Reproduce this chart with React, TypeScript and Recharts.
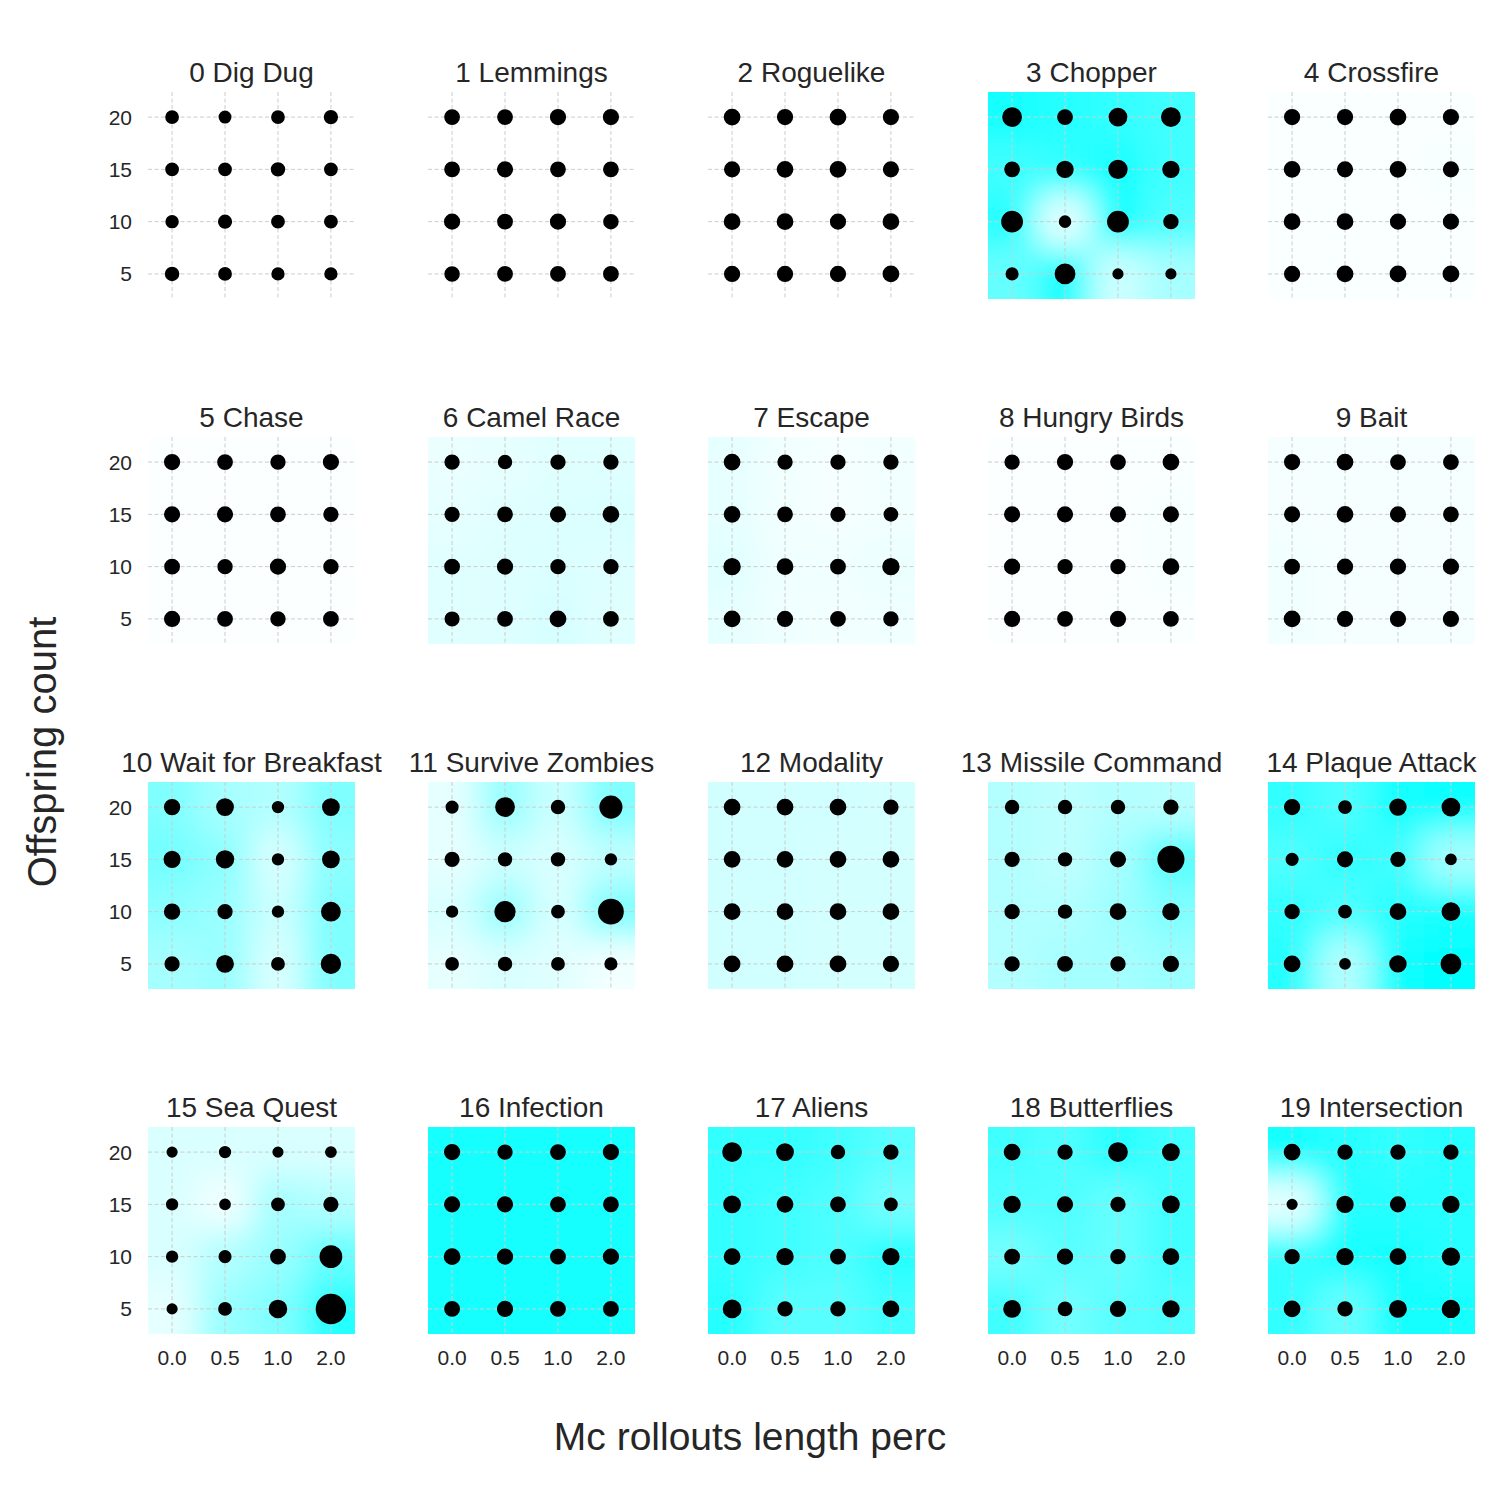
import React from 'react';
import { ScatterChart, Scatter, XAxis, YAxis, ZAxis, CartesianGrid } from 'recharts';

// ---------- data ----------
const GAMES = [
  '0 Dig Dug', '1 Lemmings', '2 Roguelike', '3 Chopper', '4 Crossfire',
  '5 Chase', '6 Camel Race', '7 Escape', '8 Hungry Birds', '9 Bait',
  '10 Wait for Breakfast', '11 Survive Zombies', '12 Modality', '13 Missile Command', '14 Plaque Attack',
  '15 Sea Quest', '16 Infection', '17 Aliens', '18 Butterflies', '19 Intersection',
];
const X_LABELS = ['0.0', '0.5', '1.0', '2.0'];
const X_TICKS = [0, 1, 2, 3];
const Y_VALUES = [20, 15, 10, 5];
const Y_TICKS = [5, 10, 15, 20];

// marker value per game: rows = offspring 20,15,10,5 ; cols = rollout perc 0.0,0.5,1.0,2.0
const DOT_VALUES: number[][][] = [
  [[36, 31, 36, 39], [36, 36, 40, 36], [34, 38, 36, 36], [40, 36, 33, 33]],
  [[49, 49, 52, 52], [49, 52, 49, 49], [52, 49, 52, 47], [47, 49, 49, 49]],
  [[56, 52, 56, 52], [52, 56, 56, 52], [56, 56, 52, 56], [52, 52, 52, 56]],
  [[81, 49, 72, 81], [49, 61, 77, 61], [100, 29, 100, 46], [32, 90, 22, 22]],
  [[52, 52, 56, 52], [56, 52, 56, 52], [56, 56, 52, 52], [52, 56, 56, 56]],
  [[52, 49, 46, 52], [52, 52, 49, 46], [49, 46, 52, 46], [52, 49, 46, 49]],
  [[46, 40, 46, 46], [46, 49, 52, 56], [49, 52, 46, 46], [44, 49, 56, 49]],
  [[56, 46, 46, 46], [56, 49, 46, 42], [61, 56, 49, 61], [56, 52, 49, 46]],
  [[46, 52, 49, 56], [52, 52, 52, 52], [52, 46, 46, 56], [52, 49, 52, 49]],
  [[52, 56, 49, 49], [52, 56, 52, 49], [49, 52, 52, 52], [56, 52, 52, 52]],
  [[53, 64, 28, 64], [59, 69, 28, 64], [53, 45, 28, 81], [45, 64, 36, 86]],
  [[32, 81, 40, 114], [45, 40, 40, 28], [28, 94, 36, 144], [36, 40, 36, 32]],
  [[56, 56, 56, 46], [56, 56, 56, 56], [56, 56, 56, 56], [56, 56, 56, 52]],
  [[40, 40, 40, 46], [46, 40, 52, 160], [46, 40, 56, 61], [46, 49, 46, 52]],
  [[52, 36, 61, 72], [32, 52, 46, 25], [46, 36, 56, 72], [56, 25, 61, 90]],
  [[22, 28, 22, 25], [28, 25, 36, 45], [28, 32, 49, 110], [22, 36, 70, 205]],
  [[52, 46, 49, 52], [52, 52, 49, 49], [56, 52, 49, 52], [49, 52, 49, 49]],
  [[81, 64, 40, 46], [64, 56, 49, 36], [56, 61, 49, 61], [72, 46, 46, 56]],
  [[56, 46, 81, 64], [61, 52, 46, 64], [49, 52, 46, 56], [64, 42, 52, 61]],
  [[56, 46, 46, 46], [22, 61, 52, 61], [46, 61, 56, 69], [56, 46, 64, 69]],
];

// background intensity (0 = white, 1 = cyan) per game, same layout
const HEAT_VALUES: number[][][] = [
  [[0, 0, 0, 0], [0, 0, 0, 0], [0, 0, 0, 0], [0, 0, 0, 0]],
  [[0, 0, 0, 0], [0, 0, 0, 0], [0, 0, 0, 0], [0, 0, 0, 0]],
  [[0, 0, 0, 0], [0, 0, 0, 0], [0, 0, 0, 0], [0, 0, 0, 0]],
  [[0.9, 0.85, 0.8, 0.75], [0.75, 0.8, 0.9, 0.75], [0.85, 0.1, 0.95, 0.7], [0.6, 0.95, 0.2, 0.35]],
  [[0.02, 0.02, 0.02, 0.02], [0.02, 0.02, 0.02, 0.03], [0.02, 0.02, 0.02, 0.02], [0.02, 0.02, 0.02, 0.02]],
  [[0.01, 0.01, 0.01, 0.01], [0.01, 0.01, 0.01, 0.01], [0.01, 0.01, 0.01, 0.01], [0.01, 0.01, 0.01, 0.01]],
  [[0.08, 0.1, 0.12, 0.12], [0.1, 0.12, 0.14, 0.15], [0.12, 0.13, 0.14, 0.13], [0.12, 0.13, 0.16, 0.12]],
  [[0.1, 0.05, 0.04, 0.05], [0.1, 0.05, 0.04, 0.05], [0.12, 0.06, 0.06, 0.08], [0.1, 0.06, 0.05, 0.06]],
  [[0.01, 0.01, 0.02, 0.02], [0.01, 0.01, 0.02, 0.03], [0.01, 0.01, 0.02, 0.03], [0.01, 0.01, 0.02, 0.02]],
  [[0.04, 0.04, 0.04, 0.04], [0.04, 0.04, 0.04, 0.04], [0.05, 0.04, 0.04, 0.04], [0.05, 0.04, 0.04, 0.04]],
  [[0.5, 0.35, 0.3, 0.5], [0.55, 0.45, 0.15, 0.45], [0.45, 0.4, 0.2, 0.5], [0.35, 0.4, 0.15, 0.5]],
  [[0.1, 0.4, 0.2, 0.5], [0.1, 0.2, 0.15, 0.25], [0.15, 0.4, 0.15, 0.5], [0.1, 0.15, 0.12, 0.05]],
  [[0.18, 0.18, 0.18, 0.17], [0.18, 0.18, 0.17, 0.17], [0.18, 0.18, 0.17, 0.17], [0.18, 0.18, 0.17, 0.17]],
  [[0.3, 0.25, 0.3, 0.28], [0.3, 0.25, 0.35, 0.65], [0.3, 0.3, 0.38, 0.5], [0.3, 0.35, 0.35, 0.4]],
  [[0.8, 0.7, 0.9, 0.95], [0.7, 0.8, 0.75, 0.35], [0.8, 0.7, 0.85, 0.9], [0.85, 0.3, 0.95, 1.0]],
  [[0.15, 0.15, 0.15, 0.15], [0.15, 0.05, 0.35, 0.3], [0.15, 0.3, 0.4, 0.6], [0.1, 0.4, 0.5, 0.85]],
  [[0.92, 0.92, 0.92, 0.92], [0.92, 0.92, 0.92, 0.92], [0.92, 0.92, 0.92, 0.92], [0.92, 0.92, 0.92, 0.92]],
  [[0.8, 0.8, 0.75, 0.65], [0.8, 0.75, 0.7, 0.55], [0.8, 0.75, 0.7, 0.85], [0.85, 0.65, 0.65, 0.75]],
  [[0.75, 0.7, 0.85, 0.75], [0.7, 0.7, 0.6, 0.75], [0.55, 0.65, 0.6, 0.75], [0.75, 0.55, 0.65, 0.7]],
  [[0.9, 0.85, 0.8, 0.85], [0.1, 0.85, 0.85, 0.85], [0.8, 0.9, 0.9, 0.85], [0.8, 0.6, 0.9, 0.9]],
];

// ---------- layout ----------
const FONT = "Arial, 'Liberation Sans', Helvetica, sans-serif";
const TEXT = '#262626';
const PLOT_W = 207;
const PLOT_H = 207;
const X_MIN = -0.455;
const X_MAX = 3.455;
const Y_MIN = 2.6;
const Y_MAX = 22.4;
const M = { top: 60, right: 10, bottom: 50, left: 70 };
const Y_AXIS_W = 60;
const X_AXIS_H = 40;
const FIRST_LEFT = 148;
const FIRST_TOP = 92;
const STEP_X = 280;
const STEP_Y = 345;
const CELL_W = PLOT_W / (X_MAX - X_MIN);
const CELL_H = (PLOT_H * 5) / (Y_MAX - Y_MIN);
const EXT = 50;
const Z_MAX = 250;

const heatColor = (a: number) => `rgb(${Math.round(255 * (1 - a))},255,255)`;

const HeatCell = (props: any) => {
  const { cx, cy, payload } = props;
  if (cx == null || cy == null) return null;
  let x0 = cx - CELL_W / 2 - 0.6;
  let x1 = cx + CELL_W / 2 + 0.6;
  let y0 = cy - CELL_H / 2 - 0.6;
  let y1 = cy + CELL_H / 2 + 0.6;
  if (payload.xi === 0) x0 -= EXT;
  if (payload.xi === 3) x1 += EXT;
  if (payload.y === 20) y0 -= EXT;
  if (payload.y === 5) y1 += EXT;
  return <rect x={x0} y={y0} width={x1 - x0} height={y1 - y0} fill={heatColor(payload.h)} />;
};

function Panel({ index }: { index: number }) {
  const row = Math.floor(index / 5);
  const col = index % 5;
  const plotLeft = FIRST_LEFT + col * STEP_X;
  const plotTop = FIRST_TOP + row * STEP_Y;
  const dots: any[] = [];
  const heat: any[] = [];
  Y_VALUES.forEach((y, ri) => {
    X_LABELS.forEach((_, xi) => {
      dots.push({ xi, y, z: DOT_VALUES[index][ri][xi] });
      heat.push({ xi, y, h: HEAT_VALUES[index][ri][xi] });
    });
  });
  const w = M.left + PLOT_W + M.right;
  const h = M.top + PLOT_H + M.bottom;
  const showY = col === 0;
  const showX = row === 3;
  const topMargin = {
    top: M.top,
    right: M.right,
    left: showY ? M.left - Y_AXIS_W : M.left,
    bottom: showX ? M.bottom - X_AXIS_H : M.bottom,
  };
  const tickStyle = { fill: TEXT, fontSize: 21, fontFamily: FONT };
  return (
    <div style={{ position: 'absolute', left: plotLeft - M.left, top: plotTop - M.top, width: w, height: h }}>
      <div
        style={{
          position: 'absolute', left: M.left - 60, width: PLOT_W + 120, top: M.top - 33,
          textAlign: 'center', fontSize: 28, lineHeight: '28px', color: TEXT, fontFamily: FONT, whiteSpace: 'nowrap',
        }}
      >
        {GAMES[index]}
      </div>
      {/* background heat layer */}
      <div style={{ position: 'absolute', left: 0, top: 0 }}>
        <ScatterChart width={w} height={h} margin={M}>
          <XAxis type="number" dataKey="xi" domain={[X_MIN, X_MAX]} allowDataOverflow hide />
          <YAxis type="number" dataKey="y" domain={[Y_MIN, Y_MAX]} allowDataOverflow hide />
          <Scatter data={heat} shape={HeatCell} className="heat-layer" isAnimationActive={false} />
        </ScatterChart>
      </div>
      {/* grid, ticks and markers */}
      <div style={{ position: 'absolute', left: 0, top: 0 }}>
        <ScatterChart width={w} height={h} margin={topMargin}>
          <XAxis
            type="number" dataKey="xi" domain={[X_MIN, X_MAX]} ticks={X_TICKS} allowDataOverflow
            tickFormatter={(v: number) => X_LABELS[v]} axisLine={false} tickLine={false} tickSize={0} tickMargin={16}
            height={X_AXIS_H} hide={!showX} interval={0} tick={tickStyle}
          />
          <YAxis
            type="number" dataKey="y" domain={[Y_MIN, Y_MAX]} ticks={Y_TICKS} allowDataOverflow
            axisLine={false} tickLine={false} tickSize={0} tickMargin={16} width={Y_AXIS_W} hide={!showY}
            interval={0} tick={tickStyle}
          />
          <ZAxis type="number" dataKey="z" domain={[0, Z_MAX]} range={[0, Z_MAX * Math.PI]} />
          <CartesianGrid
            stroke="#cccccc" strokeDasharray="4 2.5" strokeWidth={1} syncWithTicks
            horizontalValues={Y_TICKS} verticalValues={X_TICKS}
          />
          <Scatter data={dots} fill="#000000" stroke="#000000" strokeWidth={1.8} shape="circle" isAnimationActive={false} />
        </ScatterChart>
      </div>
    </div>
  );
}

export default function App() {
  return (
    <div style={{ position: 'absolute', left: 0, top: 0, width: 1500, height: 1500, background: '#ffffff', overflow: 'hidden' }}>
      <style>{`.heat-layer { filter: url(#heatBlur); }`}</style>
      <svg width={0} height={0} style={{ position: 'absolute' }}>
        <defs>
          <filter id="heatBlur" x="-30%" y="-30%" width="160%" height="160%">
            <feGaussianBlur stdDeviation={16} />
          </filter>
        </defs>
      </svg>
      {GAMES.map((_, i) => (
        <Panel key={i} index={i} />
      ))}
      <div
        style={{
          position: 'absolute', left: 0, width: 1500, top: 1417, textAlign: 'center',
          fontSize: 39, lineHeight: '40px', color: TEXT, fontFamily: FONT,
        }}
      >
        Mc rollouts length perc
      </div>
      <div
        style={{
          position: 'absolute', left: 42, top: 752, width: 400, marginLeft: -200, marginTop: -20,
          textAlign: 'center', fontSize: 40, lineHeight: '40px', color: TEXT, fontFamily: FONT,
          transform: 'rotate(-90deg)', whiteSpace: 'nowrap',
        }}
      >
        Offspring count
      </div>
    </div>
  );
}
